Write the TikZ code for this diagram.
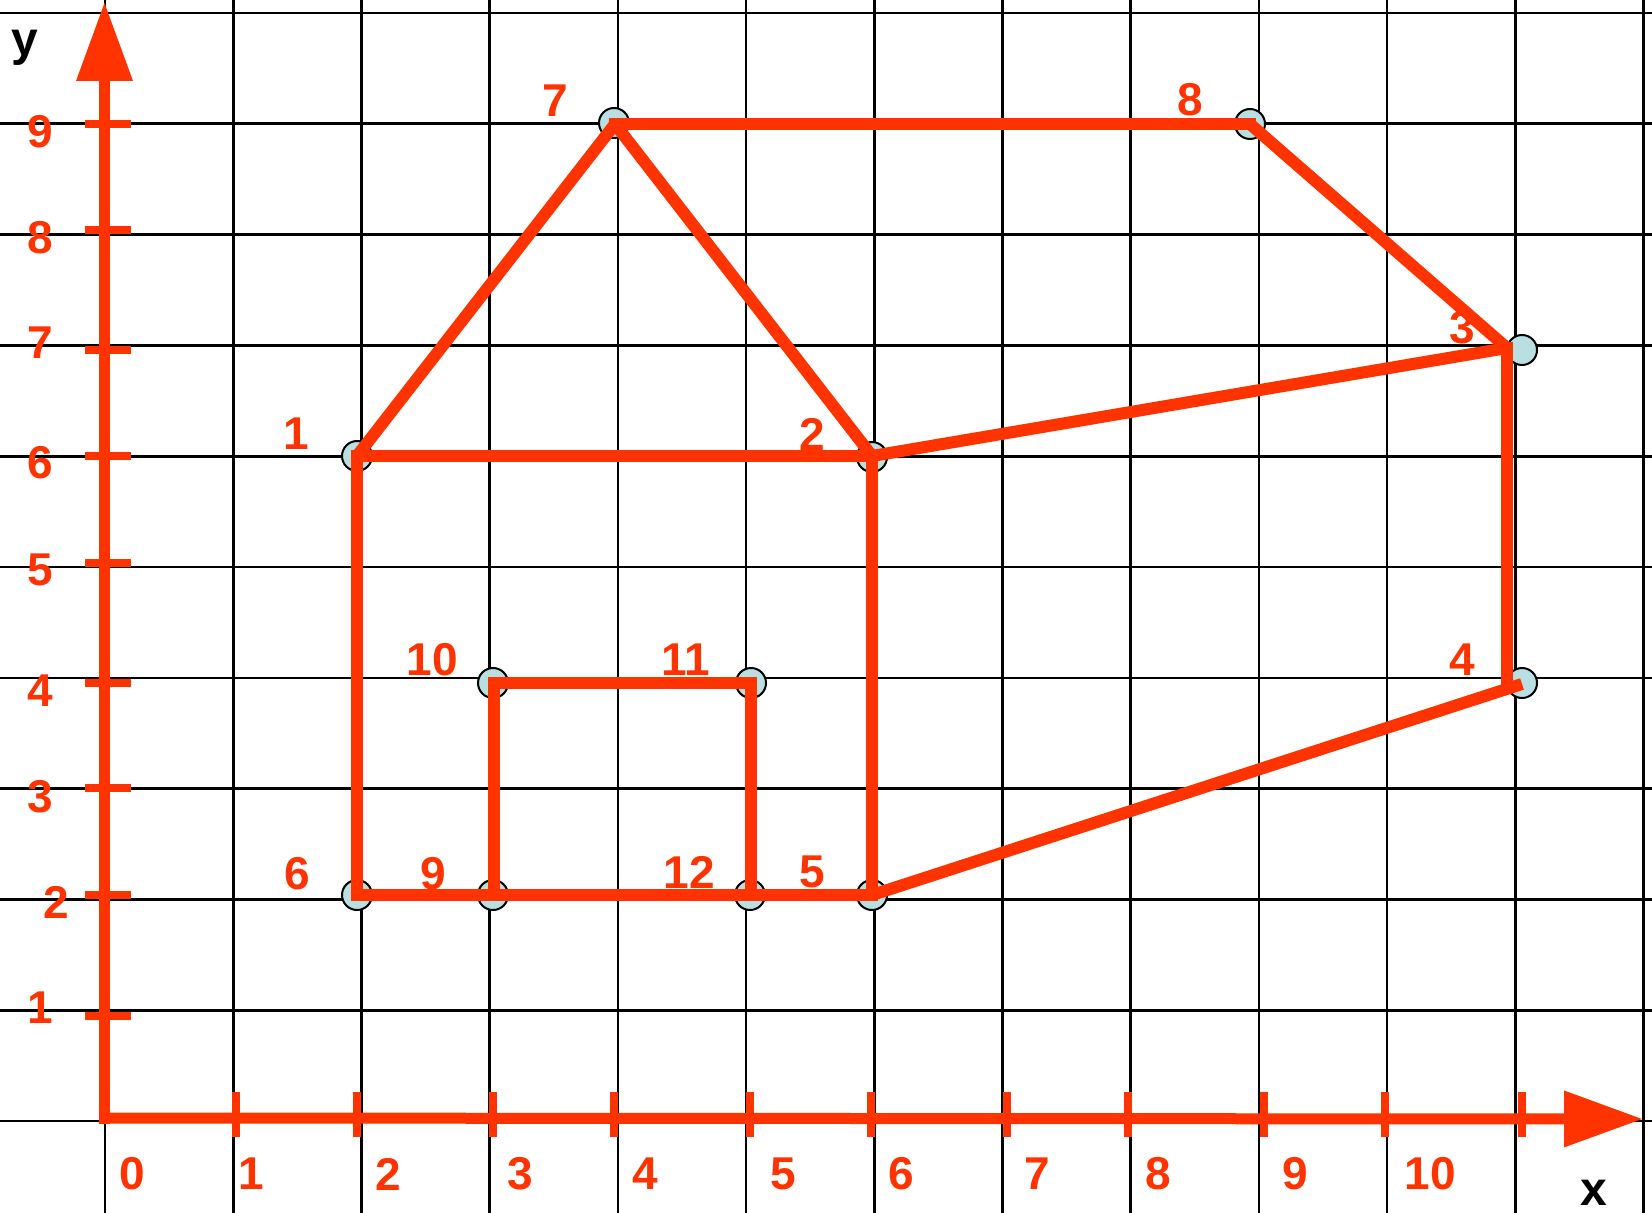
\documentclass[tikz,border=0pt]{standalone}
\usepackage{fontspec}
\setmainfont{Liberation Sans}
\usetikzlibrary{arrows.meta}
\definecolor{redor}{RGB}{255,51,0}
\definecolor{dotfill}{RGB}{184,224,226}
\begin{document}
\begin{tikzpicture}[x=0.5pt,y=-0.5pt,
  gridline/.style={black,line width=1.3pt},
  axisline/.style={redor,line width=5.5pt},
  tickmark/.style={redor,line width=4pt},
  edgeh/.style={redor,line width=6pt,line cap=rect},
  edged/.style={redor,line width=6pt,line cap=butt},
  dot/.style={circle,draw=black,line width=1pt,fill=dotfill,minimum size=15pt,inner sep=0pt},
  lbl/.style={text=redor,font=\fontsize{23}{23}\selectfont\bfseries,inner sep=0pt},
  axname/.style={text=black,font=\fontsize{24}{24}\selectfont\bfseries,inner sep=0pt},
  tipstyle/.style={-{Triangle[length=39pt,width=28.5pt,line width=0pt]}}]
\useasboundingbox (0,0) rectangle (1652,1213);
\fill[white] (0,0) rectangle (1652,1213);
% grid
\begin{scope}
\clip (0,0) rectangle (1652,1213);
\foreach \i in {0,...,12} \draw[gridline] ({105+128.2*\i},0) -- ({105+128.2*\i},1213);
\foreach \j in {0,...,10} \draw[gridline] (0,{13+110.8*\j}) -- (1652,{13+110.8*\j});
\end{scope}
% vertices
\coordinate (v1) at (357,456);
\coordinate (v2) at (872,456);
\coordinate (v3) at (1507,348);
\coordinate (v4) at (1507,684);
\coordinate (v4r) at (1522,684);
\coordinate (v5) at (872,895);
\coordinate (v6) at (357,895);
\coordinate (v7) at (615,124);
\coordinate (v8) at (1250,124);
\coordinate (v9) at (494,895);
\coordinate (v10) at (494,683);
\coordinate (v11) at (751,683);
\coordinate (v12) at (751,895);
% point markers
\node[dot] (c1) at (357,456) {};
\node[dot] (c2) at (872,457) {};
\node[dot] (c3) at (1522,350) {};
\node[dot] (c4) at (1522,683) {};
\node[dot] (c5) at (872,895) {};
\node[dot] (c6) at (357,895) {};
\node[dot] (c7) at (614,123) {};
\node[dot] (c8) at (1250,124) {};
\node[dot] (c9) at (493,895) {};
\node[dot] (c10) at (493,683) {};
\node[dot] (c11) at (751,683) {};
\node[dot] (c12) at (750,895) {};
% axes
\coordinate (ybot) at (104.5,1124);
\coordinate (ytip) at (104.5,3);
\coordinate (xleft) at (99,1118);
\coordinate (xtip) at (1642,1119);
\draw[axisline,tipstyle] (ybot) -- (ytip);
\draw[axisline,tipstyle] (xleft) -- (xtip);
\foreach \t in {124,230,350,456,563,683,788,895,1016}
  \draw[tickmark] (85,\t) -- (131,\t);
\foreach \t in {236,357,493,614,750,871,1007,1128,1264,1385,1522}
  \draw[tickmark] (\t,1092) -- (\t,1137);
% figure edges
\draw[edgeh] (v7) -- (v8);
\draw[edgeh] (v1) -- (v2);
\draw[edgeh] (v1) -- (v6);
\draw[edgeh] (v6) -- (v9) -- (v12) -- (v5);
\draw[edgeh] (v2) -- (v5);
\draw[edgeh] (v3) -- (v4);
\draw[edgeh] (v10) -- (v11);
\draw[edgeh] (v9) -- (v10);
\draw[edgeh] (v11) -- (v12);
\draw[edged] (v7) -- (v1);
\draw[edged] (v7) -- (v2);
\draw[edged] (v8) -- (v3);
\draw[edged] (v2) -- (v3);
\draw[edged] (v4r) -- (v5);
% point labels
\node[lbl] (l1) at (296,434) {1};
\node[lbl] (l2) at (812,434) {2};
\node[lbl] (l3) at (1462,328) {3};
\node[lbl] (l4) at (1462,660) {4};
\node[lbl] (l5) at (812,872) {5};
\node[lbl] (l6) at (297,874) {6};
\node[lbl] (l7) at (555,101) {7};
\node[lbl] (l8) at (1190,100) {8};
\node[lbl] (l9) at (433,874) {9};
\node[lbl] (l10) at (432,660) {10};
\node[lbl] (l11) at (686,660) {11};
\node[lbl] (l12) at (689,872) {12};
% y axis labels
\node[lbl] (ya9) at (40,132) {9};
\node[lbl] (ya8) at (40,238) {8};
\node[lbl] (ya7) at (40,343) {7};
\node[lbl] (ya6) at (40,463) {6};
\node[lbl] (ya5) at (40,570) {5};
\node[lbl] (ya4) at (40,691) {4};
\node[lbl] (ya3) at (40,797) {3};
\node[lbl] (ya2) at (56,902) {2};
\node[lbl] (ya1) at (40,1008) {1};
% x axis labels
\node[lbl] (xa0) at (132,1174) {0};
\node[lbl] (xa1) at (251,1174) {1};
\node[lbl] (xa2) at (388,1174) {2};
\node[lbl] (xa3) at (520,1174) {3};
\node[lbl] (xa4) at (645,1174) {4};
\node[lbl] (xa5) at (783,1174) {5};
\node[lbl] (xa6) at (901,1174) {6};
\node[lbl] (xa7) at (1037,1174) {7};
\node[lbl] (xa8) at (1158,1174) {8};
\node[lbl] (xa9) at (1295,1174) {9};
\node[lbl] (xa10) at (1430,1174) {10};
% axis names
\node[axname] (xname) at (1594,1193) {x};
\node[axname] (yname) at (25,48) {y};
\end{tikzpicture}
\end{document}
